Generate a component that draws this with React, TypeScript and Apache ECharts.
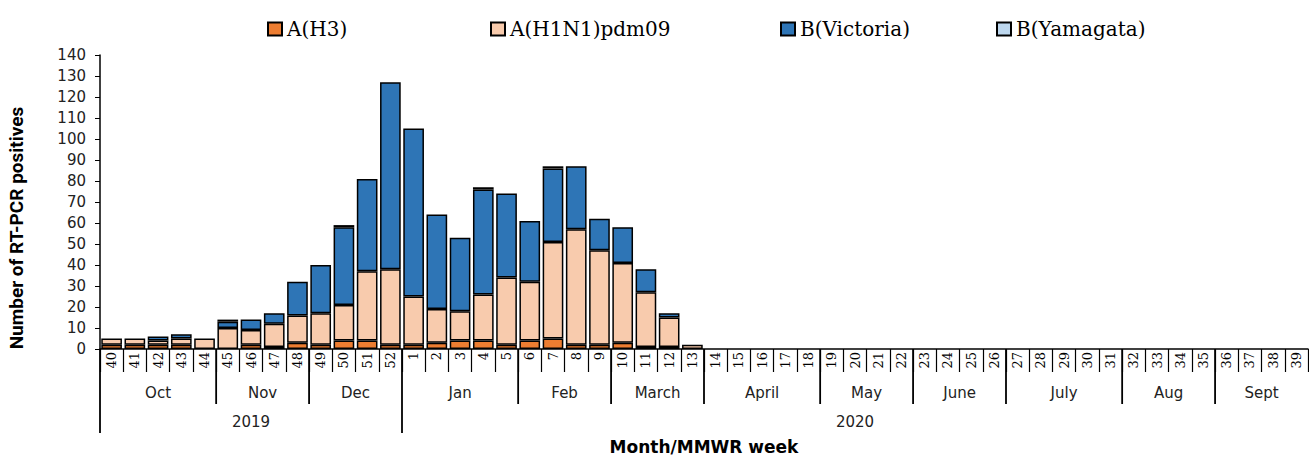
import React, { useEffect, useRef } from 'react';
import * as echarts from 'echarts';

const weeks = [
  '40', '41', '42', '43', '44', '45', '46', '47', '48', '49', '50', '51', '52',
  '1', '2', '3', '4', '5', '6', '7', '8', '9', '10', '11', '12', '13', '14', '15', '16', '17', '18', '19', '20',
  '21', '22', '23', '24', '25', '26', '27', '28', '29', '30', '31', '32', '33', '34', '35', '36', '37', '38', '39',
];

const h3 = [
  2, 2, 2, 2, 0, 0, 2, 1, 3, 2, 4, 4, 2,
  2, 3, 4, 4, 2, 4, 5, 2, 2, 3, 1, 1, 0,
  0, 0, 0, 0, 0, 0, 0, 0, 0, 0, 0, 0, 0, 0, 0, 0, 0, 0, 0, 0, 0, 0, 0, 0, 0, 0,
];
const h1n1 = [
  3, 3, 2, 3, 5, 10, 7, 11, 13, 15, 17, 33, 36,
  23, 16, 14, 22, 32, 28, 46, 55, 45, 38, 26, 14, 2,
  0, 0, 0, 0, 0, 0, 0, 0, 0, 0, 0, 0, 0, 0, 0, 0, 0, 0, 0, 0, 0, 0, 0, 0, 0, 0,
];
const victoria = [
  0, 0, 2, 2, 0, 3, 5, 5, 16, 23, 37, 44, 89,
  80, 45, 35, 50, 40, 29, 35, 30, 15, 17, 11, 2, 0,
  0, 0, 0, 0, 0, 0, 0, 0, 0, 0, 0, 0, 0, 0, 0, 0, 0, 0, 0, 0, 0, 0, 0, 0, 0, 0,
];
const yamagata = [
  0, 0, 0, 0, 0, 1, 0, 0, 0, 0, 1, 0, 0,
  0, 0, 0, 1, 0, 0, 1, 0, 0, 0, 0, 0, 0,
  0, 0, 0, 0, 0, 0, 0, 0, 0, 0, 0, 0, 0, 0, 0, 0, 0, 0, 0, 0, 0, 0, 0, 0, 0, 0,
];

const months = ['Oct', 'Nov', 'Dec', 'Jan', 'Feb', 'March', 'April', 'May', 'June', 'July', 'Aug', 'Sept'];
const monthWeekCounts = [5, 4, 4, 5, 4, 4, 5, 4, 4, 5, 4, 4];
const years = ['2019', '2020'];
const yearWeekCounts = [13, 39];

const seriesNames = ['A(H3)', 'A(H1N1)pdm09', 'B(Victoria)', 'B(Yamagata)'];
const seriesColors = ['#ED7D31', '#F8CBAD', '#2E75B6', '#BDD7EE'];
const seriesData = [h3, h1n1, victoria, yamagata];
const legendLefts = [262, 485, 775, 991];

export default function App() {
  const ref = useRef<HTMLDivElement>(null);
  useEffect(() => {
    document.body.style.margin = '0';
    const chart = echarts.init(ref.current!, null, { renderer: 'svg' });
    const series = seriesNames.map((name, i) => ({
      name,
      type: 'bar',
      stack: 'total',
      barCategoryGap: '11%',
      data: seriesData[i].map((v) => (v === 0 ? '-' : v)),
      itemStyle: { color: seriesColors[i], borderColor: '#000', borderWidth: 1.5 },
    }));
    chart.setOption({
      animation: false,
      grid: { left: 100, right: 1, top: 55, bottom: 109, containLabel: false },
      legend: seriesNames.map((name, i) => ({
        data: [name],
        left: legendLefts[i],
        top: 14,
        icon: 'rect',
        itemWidth: 14,
        itemHeight: 13,
        textStyle: { fontFamily: 'DejaVu Serif', fontSize: 20, color: '#000' },
      })),
      xAxis: {
        type: 'category',
        data: weeks,
        axisLine: { lineStyle: { color: '#000', width: 1.5 } },
        axisTick: { show: true, interval: 0, length: 23, lineStyle: { color: '#000', width: 1.2 } },
        axisLabel: {
          interval: 0,
          rotate: 90,
          margin: 3,
          fontFamily: 'DejaVu Serif',
          fontSize: 13,
          color: '#000',
        },
      },
      yAxis: {
        type: 'value',
        min: 0,
        max: 140,
        interval: 10,
        splitLine: { show: false },
        axisLine: { show: true, lineStyle: { color: '#000', width: 1.5 } },
        axisTick: { show: true, length: 5, lineStyle: { color: '#000' } },
        axisLabel: { fontFamily: 'DejaVu Sans', fontSize: 15, color: '#222', margin: 14 },
      },
      series,
    });

    const p0 = chart.convertToPixel({ xAxisIndex: 0 }, 0) as number;
    const p1 = chart.convertToPixel({ xAxisIndex: 0 }, 1) as number;
    const cw = p1 - p0;
    const startX = p0 - cw / 2;
    const axisY = chart.convertToPixel({ yAxisIndex: 0 }, 0) as number;
    const yTop = chart.convertToPixel({ yAxisIndex: 0 }, 140) as number;
    const monthBottom = axisY + 55;
    const yearBottom = axisY + 84;
    const g: any[] = [];
    const vline = (x: number, y2: number) =>
      g.push({ type: 'line', shape: { x1: x, y1: axisY, x2: x, y2 }, style: { stroke: '#000', lineWidth: 1.8 } });
    const label = (text: string, x: number, y: number) =>
      g.push({
        type: 'text',
        x,
        y,
        style: { text, fontFamily: 'DejaVu Sans', fontSize: 15, fill: '#222', align: 'center', verticalAlign: 'middle' },
      });

    let idx = 0;
    months.forEach((m, i) => {
      const a = startX + idx * cw;
      const b = startX + (idx + monthWeekCounts[i]) * cw;
      if (idx !== 0 && idx !== yearWeekCounts[0]) vline(a, monthBottom);
      label(m, (a + b) / 2, axisY + 44);
      idx += monthWeekCounts[i];
    });
    idx = 0;
    years.forEach((y, i) => {
      const a = startX + idx * cw;
      const b = startX + (idx + yearWeekCounts[i]) * cw;
      vline(a, yearBottom);
      label(y, (a + b) / 2, axisY + 73);
      idx += yearWeekCounts[i];
    });

    const endX = startX + weeks.length * cw;
    g.push({
      type: 'text',
      x: (startX + endX) / 2,
      y: axisY + 98,
      style: {
        text: 'Month/MMWR week',
        fontFamily: 'DejaVu Sans',
        fontWeight: 'bold',
        fontSize: 17,
        fill: '#000',
        align: 'center',
        verticalAlign: 'middle',
      },
    });
    g.push({
      type: 'text',
      x: 16,
      y: (axisY + yTop) / 2 + 26,
      rotation: Math.PI / 2,
      style: {
        text: 'Number of RT-PCR positives',
        fontFamily: 'Roboto',
        fontWeight: 'bold',
        fontSize: 19,
        fill: '#000',
        align: 'center',
        verticalAlign: 'middle',
      },
    });
    chart.setOption({ graphic: g });
    return () => chart.dispose();
  }, []);
  return <div ref={ref} style={{ width: 1309, height: 458 }} />;
}
